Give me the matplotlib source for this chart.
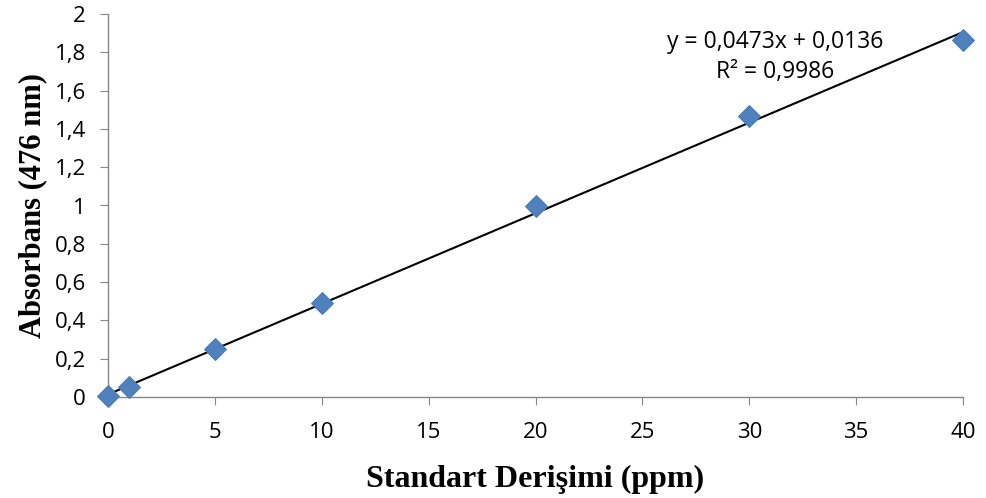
import matplotlib
matplotlib.use("Agg")
import matplotlib.pyplot as plt
import numpy as np

conc = [0, 1, 5, 10, 20, 30, 40]
absorb = [0.003, 0.053, 0.25, 0.49, 0.997, 1.467, 1.864]
slope = 0.0473
intercept = 0.0136
xticks = [0, 5, 10, 15, 20, 25, 30, 35, 40]
yticks = [0, 0.2, 0.4, 0.6, 0.8, 1.0, 1.2, 1.4, 1.6, 1.8, 2.0]
ytick_labels = ["0", "0,2", "0,4", "0,6", "0,8", "1", "1,2", "1,4", "1,6", "1,8", "2"]

fig = plt.figure(figsize=(9.86, 4.98), dpi=100)
ax = fig.add_axes([108/986, 1-397/498, (963-108)/986, (397-14)/498])

xl = np.array([0, 40])
ax.plot(xl, slope*xl + intercept, color="black", lw=1.5, zorder=2)
ax.scatter(conc, absorb, marker="D", s=120, color="#4F81BD", edgecolors="#4A7EBB", zorder=3, clip_on=False)

ax.set_xlim(0, 40)
ax.set_ylim(0, 2)
ax.set_xticks(xticks)
ax.set_yticks(yticks)
ax.set_yticklabels(ytick_labels)
tickfont = "Open Sans"
for lab in ax.get_xticklabels() + ax.get_yticklabels():
    lab.set_fontfamily(tickfont)
    lab.set_fontsize(16)
for s in ["top", "right"]:
    ax.spines[s].set_visible(False)
for s in ["left", "bottom"]:
    ax.spines[s].set_color("#868686")
    ax.spines[s].set_linewidth(1)
ax.tick_params(direction="out", length=6, color="#868686")
ax.tick_params(axis="x", pad=12)
ax.tick_params(axis="y", pad=10)

ax.set_xlabel("Standart Derişimi (ppm)", fontfamily="Liberation Serif", fontweight="bold", fontsize=23, labelpad=16)
ax.set_ylabel("Absorbans (476 nm)", fontfamily="Liberation Serif", fontweight="bold", fontsize=22, labelpad=5)

ax.text(775/986, 1-42/498, "y = 0,0473x + 0,0136", transform=fig.transFigure, ha="center", va="center", fontfamily=tickfont, fontsize=16.5)
ax.text(775/986, 1-72/498, "R² = 0,9986", transform=fig.transFigure, ha="center", va="center", fontfamily=tickfont, fontsize=16.5)

fig.savefig("out.png", dpi=100)
